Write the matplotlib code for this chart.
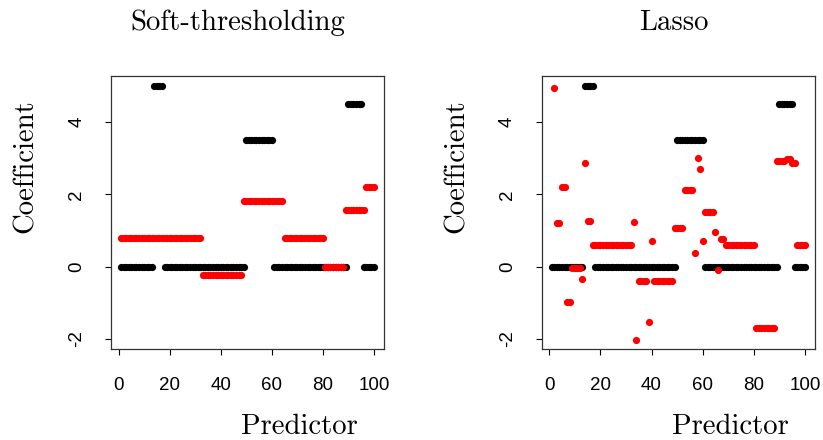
import numpy as np
import matplotlib
matplotlib.use("Agg")
import matplotlib.pyplot as plt

# true coefficients (black), stored as runs of equal values
true_vals = [0, 5, 0, 3.5, 0, 4.5, 0]
true_lens = [13, 4, 32, 11, 29, 6, 5]

# soft-thresholding estimates (red)
soft_vals = [0.79, -0.22, 1.82, 0.79, 0.0, 1.58, 2.21]
soft_lens = [32, 16, 16, 16, 8, 8, 4]

# lasso estimates (red)
lasso_vals = [np.nan, 4.95, 1.22, 2.21, -0.97, -0.03, -0.33, 2.88, 1.26, 0.61,
              1.24, -2.02, -0.39, -1.53, 0.72, -0.39, 1.08, 2.13, 0.39, 3.01,
              2.71, 0.72, 1.52, 0.96, -0.08, 0.77, 0.61, -1.71, 2.93, 2.99,
              2.88, 0.61]
lasso_lens = [1, 1, 2, 2, 2, 4, 1, 1, 2, 16,
              1, 1, 4, 1, 1, 8, 4, 4, 1, 1,
              1, 1, 4, 1, 1, 2, 12, 8, 4, 2,
              2, 4]

titles = ["Soft-thresholding", "Lasso"]
xticks = [0, 20, 40, 60, 80, 100]
yticks = [-2, 0, 2, 4]

predictor = np.arange(1, 101)
beta = np.repeat(true_vals, true_lens)
soft = np.repeat(soft_vals, soft_lens)
lasso = np.repeat(lasso_vals, lasso_lens)

W, H = 823, 440
fig = plt.figure(figsize=(W / 100, H / 100), dpi=100)

serif = "cmr10"
tick_font = "Liberation Sans"
fs_lab = 20.7
ms = 5.2

# axes boxes in pixels: (left, top, right, bottom)
boxes = [(111, 76, 384, 349), (541.7, 76, 815, 349)]
title_x = [238, 674]
xlab_x = [299.5, 730]
ylab_x = [33, 464]

for i, est in enumerate([soft, lasso]):
    l, t, r, b = boxes[i]
    ax = fig.add_axes([l / W, 1 - b / H, (r - l) / W, (b - t) / H])
    ax.plot(predictor, beta, "o", color="black", ms=ms, mew=0)
    ax.plot(predictor, est, "o", color="red", ms=ms, mew=0)
    ax.set_xlim(-2.96, 103.96)
    ax.set_ylim(-2.28, 5.28)
    ax.set_xticks(xticks)
    ax.set_xticklabels([str(v) for v in xticks], fontfamily=tick_font, fontsize=13.5)
    ax.set_yticks(yticks)
    ax.set_yticklabels([str(v) for v in yticks], fontfamily=tick_font, fontsize=13.5,
                       rotation=90, va="center")
    ax.tick_params(axis="x", direction="out", length=4, width=0.8, pad=16.5)
    ax.tick_params(axis="y", direction="out", length=4, width=0.8, pad=14.5)
    for sp in ax.spines.values():
        sp.set_linewidth(0.9)
        sp.set_color("#333333")

    fig.text(title_x[i] / W, 1 - 30 / H, titles[i], family=serif, fontsize=fs_lab,
             ha="center", va="baseline")
    fig.text(xlab_x[i] / W, 1 - 434 / H, "Predictor", family=serif, fontsize=fs_lab,
             ha="center", va="baseline")
    fig.text(ylab_x[i] / W, 1 - 166 / H, "Coefficient", family=serif, fontsize=fs_lab,
             ha="center", va="baseline", rotation=90, rotation_mode="anchor")

fig.savefig("out.png", dpi=100)
